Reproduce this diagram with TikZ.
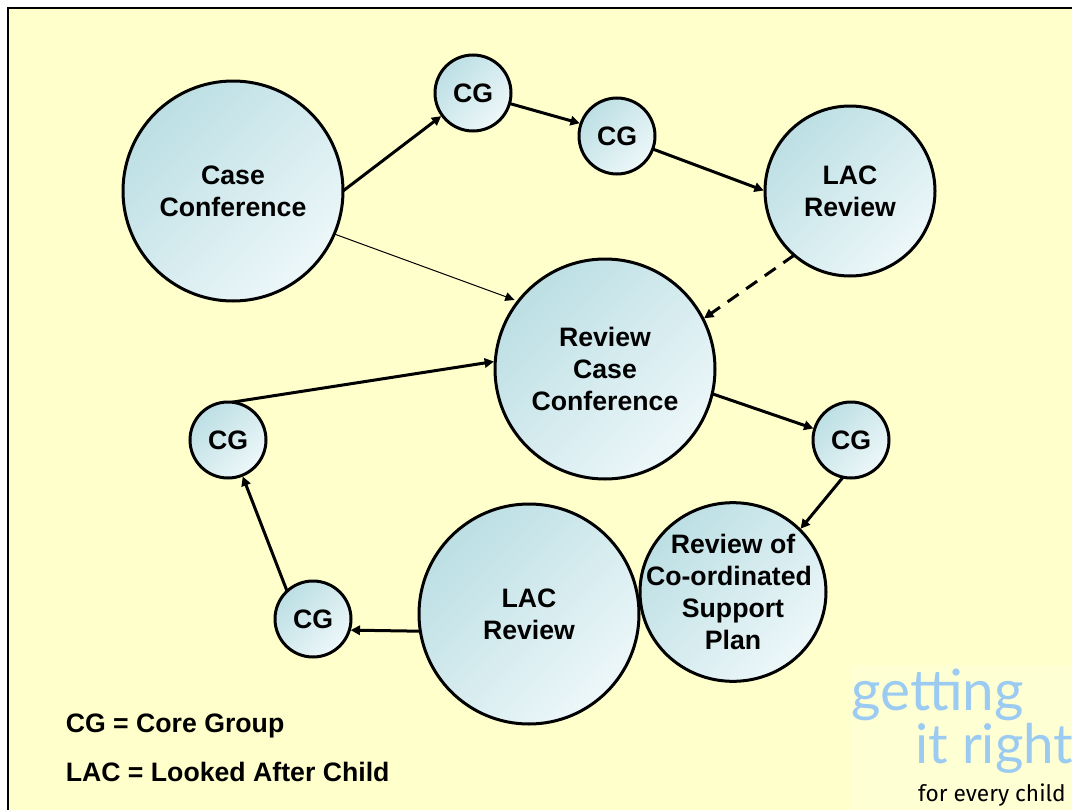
\documentclass[tikz,border=0pt]{standalone}
\usepackage{fontspec}
\setmainfont{Liberation Sans}
\newfontfamily\logofont{Lato}
\newfontfamily\handfont{Fira Sans}
\usetikzlibrary{arrows.meta,shapes.geometric}
\definecolor{paper}{HTML}{FFFFCC}
\definecolor{logopaper}{HTML}{FFFFD4}
\definecolor{ballA}{HTML}{BCDFE4}
\definecolor{ballB}{HTML}{EDF7F9}
\definecolor{logoblue}{HTML}{9CCBF2}
\tikzset{
  ball/.style={circle,draw=black,line width=2.25pt,top color=ballA,bottom color=ballB,shading angle=45,
    inner sep=0pt,outer sep=0pt,align=center,font=\fontsize{20}{24}\selectfont\bfseries},
  big/.style={ball,minimum size=165pt},
  mid/.style={ball,minimum size=127.5pt},
  small/.style={ball,minimum size=57pt},
  link/.style={line width=2.25pt,-{Triangle[length=7pt,width=7pt]},shorten >=1pt},
  thin link/.style={line width=0.75pt,-{Triangle[length=7pt,width=6.5pt]},shorten >=3pt},
  legend/.style={anchor=base west,inner sep=0pt,font=\fontsize{20}{24}\selectfont\bfseries},
  logobig/.style={anchor=base west,inner sep=0pt,text=logoblue,font=\fontsize{41}{41}\selectfont\logofont},
  logosmall/.style={anchor=base east,inner sep=0pt,font=\fontsize{17}{17}\selectfont\handfont}
}
\begin{document}
\begin{tikzpicture}[x=0.75pt,y=-0.75pt]
\useasboundingbox (0,0) rectangle (1072,810);
\clip (0,0) rectangle (1072,810);
\fill[white] (0,0) rectangle (1072,810);
\draw[black,line width=1.5pt,fill=paper] (8,8) rectangle (1090,830);
\fill[logopaper] (850,665) rectangle (1072,810);
\node[big]   (case) at (233,191) {Case\\Conference};
\node[small] (cga)  at (473,93)  {CG};
\node[small] (cgb)  at (617,136) {CG};
\node[mid]   (laca) at (850,191) {LAC\\Review};
\node[big]   (rcc)  at (605,369) {Review\\Case\\Conference};
\node[small] (cgc)  at (851,440) {CG};
\node[ball,ellipse,inner xsep=-19pt,inner ysep=-5pt,minimum width=139.5pt,minimum height=134pt] (rcsp) at (733,592) {Review of\\Co-ordinated\rule{6pt}{0pt}\\Support\\Plan};
\node[big]   (lacb) at (529,614) {LAC\\Review};
\node[small] (cgd)  at (313,619) {CG};
\node[small] (cge)  at (228,440) {CG};
\draw[link] (case.0) -- (cga.216);
\draw[link] (cga.-16) -- (cgb.161);
\draw[link] (cgb.-20) -- (laca.180);
\draw[thin link] (case.-23) -- (rcc.142);
\draw[link,dashed,dash pattern=on 10pt off 7pt] (laca.229) -- (rcc.27);
\draw[link] (rcc.-13) -- (cgc.163);
\draw[link] (cgc.258) -- (rcsp.43);
\draw[link] (lacb.189) -- (cgd.-17);
\draw[link] (cgd.133) -- (cge.-68);
\draw[link] (cge.84) -- (rcc.176);
\node[legend] (lega) at (65.5,732) {CG = Core Group};
\node[legend] (legb) at (65.5,781) {LAC = Looked After Child};
\node[logobig,font=\fontsize{42.5}{42.5}\selectfont\logofont] (loga) at (851,710) {getting};
\node[logobig] (logb) at (915,763) {it right};
\node[logosmall] (logc) at (1066,801) {for every child};
\end{tikzpicture}
\end{document}
